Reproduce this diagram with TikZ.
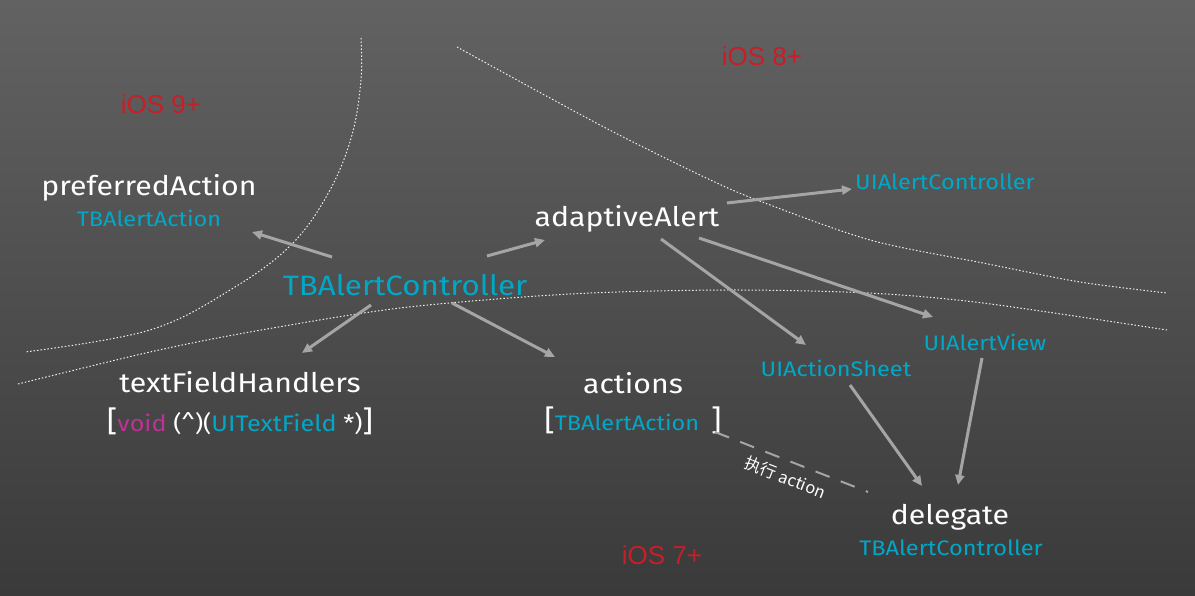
\documentclass[tikz,border=0pt]{standalone}
\usepackage{fontspec}
\setmainfont{Fira Sans}[FakeStretch=1.12]
\newfontfamily\redfont{Liberation Sans}
\newfontfamily\cjk{Noto Sans CJK SC}
\usetikzlibrary{arrows.meta,calc}
\definecolor{bgtop}{RGB}{98,98,98}
\definecolor{bgbot}{RGB}{58,58,58}
\definecolor{cyanl}{RGB}{0,168,200}
\definecolor{redl}{RGB}{200,30,40}
\definecolor{magl}{RGB}{190,50,150}
\definecolor{arrowgray}{RGB}{165,165,165}
\begin{document}
\begin{tikzpicture}[x=1pt,y=-1pt,
  whitelbl/.style={text=white, font=\fontsize{27}{29}\selectfont, inner sep=0pt},
  cyanlbl/.style={text=cyanl, font=\fontsize{21}{23}\selectfont, inner sep=0pt},
  biglbl/.style={text=cyanl, font=\fontsize{28}{30}\selectfont, inner sep=0pt},
  ioslbl/.style={text=redl, font=\redfont\fontsize{26}{28}\selectfont, inner sep=0pt},
  arr/.style={draw=arrowgray, line width=3pt, -{Triangle[length=10pt,width=9pt]}},
  dashlink/.style={draw=arrowgray, line width=2pt, dash pattern=on 15pt off 12pt},
  zone/.style={draw=white!88!gray, line width=1pt, dash pattern=on 1.5pt off 2pt, line cap=butt}]
\useasboundingbox (0,0) rectangle (1195,596);
\shade[top color=bgtop, bottom color=bgbot] (0,0) rectangle (1195,596);

% zone borders
\draw[zone] plot[smooth, tension=0.6] coordinates {(361,38) (361,80) (352,135) (330,190) (293,243) (235,287) (150,330) (25,352)};
\draw[zone] plot[smooth, tension=0.5] coordinates {(457,47) (600,125) (700,175) (757,200) (870,240) (983,263) (1080,282) (1167,293)};
\draw[zone] plot[smooth, tension=0.5] coordinates {(18,384) (150,352) (250,332) (400,308) (570,294) (726,290) (868,293) (983,303) (1167,330)};

% zone labels
\node[ioslbl] (ios9) at (161,104) {iOS 9+};
\node[ioslbl] (ios8) at (762,56) {iOS 8+};
\node[ioslbl] (ios7) at (662,555) {iOS 7+};

% nodes
\node[whitelbl] (pref) at (149,188) {preferredAction};
\node[cyanlbl] (prefT) at (149,218) {TBAlertAction};
\node[biglbl] (tbac) at (405,285) {TBAlertController};
\node[whitelbl] (adapt) at (627,219) {adaptiveAlert};
\node[cyanlbl] (uiac) at (945,182) {UIAlertController};
\node[cyanlbl] (uiav) at (985,342) {UIAlertView};
\node[cyanlbl] (uias) at (836,368) {UIActionSheet};
\node[whitelbl] (tfh) at (240,382) {textFieldHandlers};
\node[text=white, font=\fontsize{22.5}{24}\selectfont, inner sep=0pt] (tfhT) at (240,421)
  {{\fontsize{29}{29}\selectfont [}\textcolor{magl}{void} (\^{})(\textcolor{cyanl}{UITextField} *){\fontsize{29}{29}\selectfont ]}};
\node[whitelbl] (act) at (633,383) {actions};
\node[text=white, font=\fontsize{21}{23}\selectfont, inner sep=0pt] (actT) at (633,420)
  {{\fontsize{29}{29}\selectfont [}\textcolor{cyanl}{TBAlertAction}\hspace{12pt}{\fontsize{29}{29}\selectfont ]}};
\node[whitelbl] (del) at (950,517) {delegate};
\node[cyanlbl] (delT) at (951,548) {TBAlertController};

% connectors
\draw[arr] ([shift={(-73,-28)}]tbac.center) -- ([shift={(103,14)}]prefT.center);
\draw[arr] ([shift={(82,-29)}]tbac.center) -- ([shift={(-82,21)}]adapt.center);
\draw[arr] ([shift={(-34,20)}]tbac.center) -- ([shift={(62,-29)}]tfh.center);
\draw[arr] ([shift={(47,18)}]tbac.center) -- ([shift={(-78,-26)}]act.center);
\draw[arr] ([shift={(100,-16)}]adapt.center) -- ([shift={(-93,7)}]uiac.center);
\draw[arr] ([shift={(34,20)}]adapt.center) -- ([shift={(-30,-23)}]uias.center);
\draw[arr] ([shift={(72,19)}]adapt.center) -- ([shift={(-52,-25)}]uiav.center);
\draw[arr] ([shift={(14,17)}]uias.center) -- ([shift={(-28,-31)}]del.center);
\draw[arr] ([shift={(-3,16)}]uiav.center) -- ([shift={(8,-32)}]del.center);
\draw[dashlink] ([shift={(82,12)}]actT.center) -- ([shift={(-82,-25)}]del.center)
  node[pos=0.5, below=8pt, sloped, text=white, font=\cjk\fontsize{16.5}{18}\selectfont, inner sep=0pt] (exec) {执行 action};
\end{tikzpicture}
\end{document}
